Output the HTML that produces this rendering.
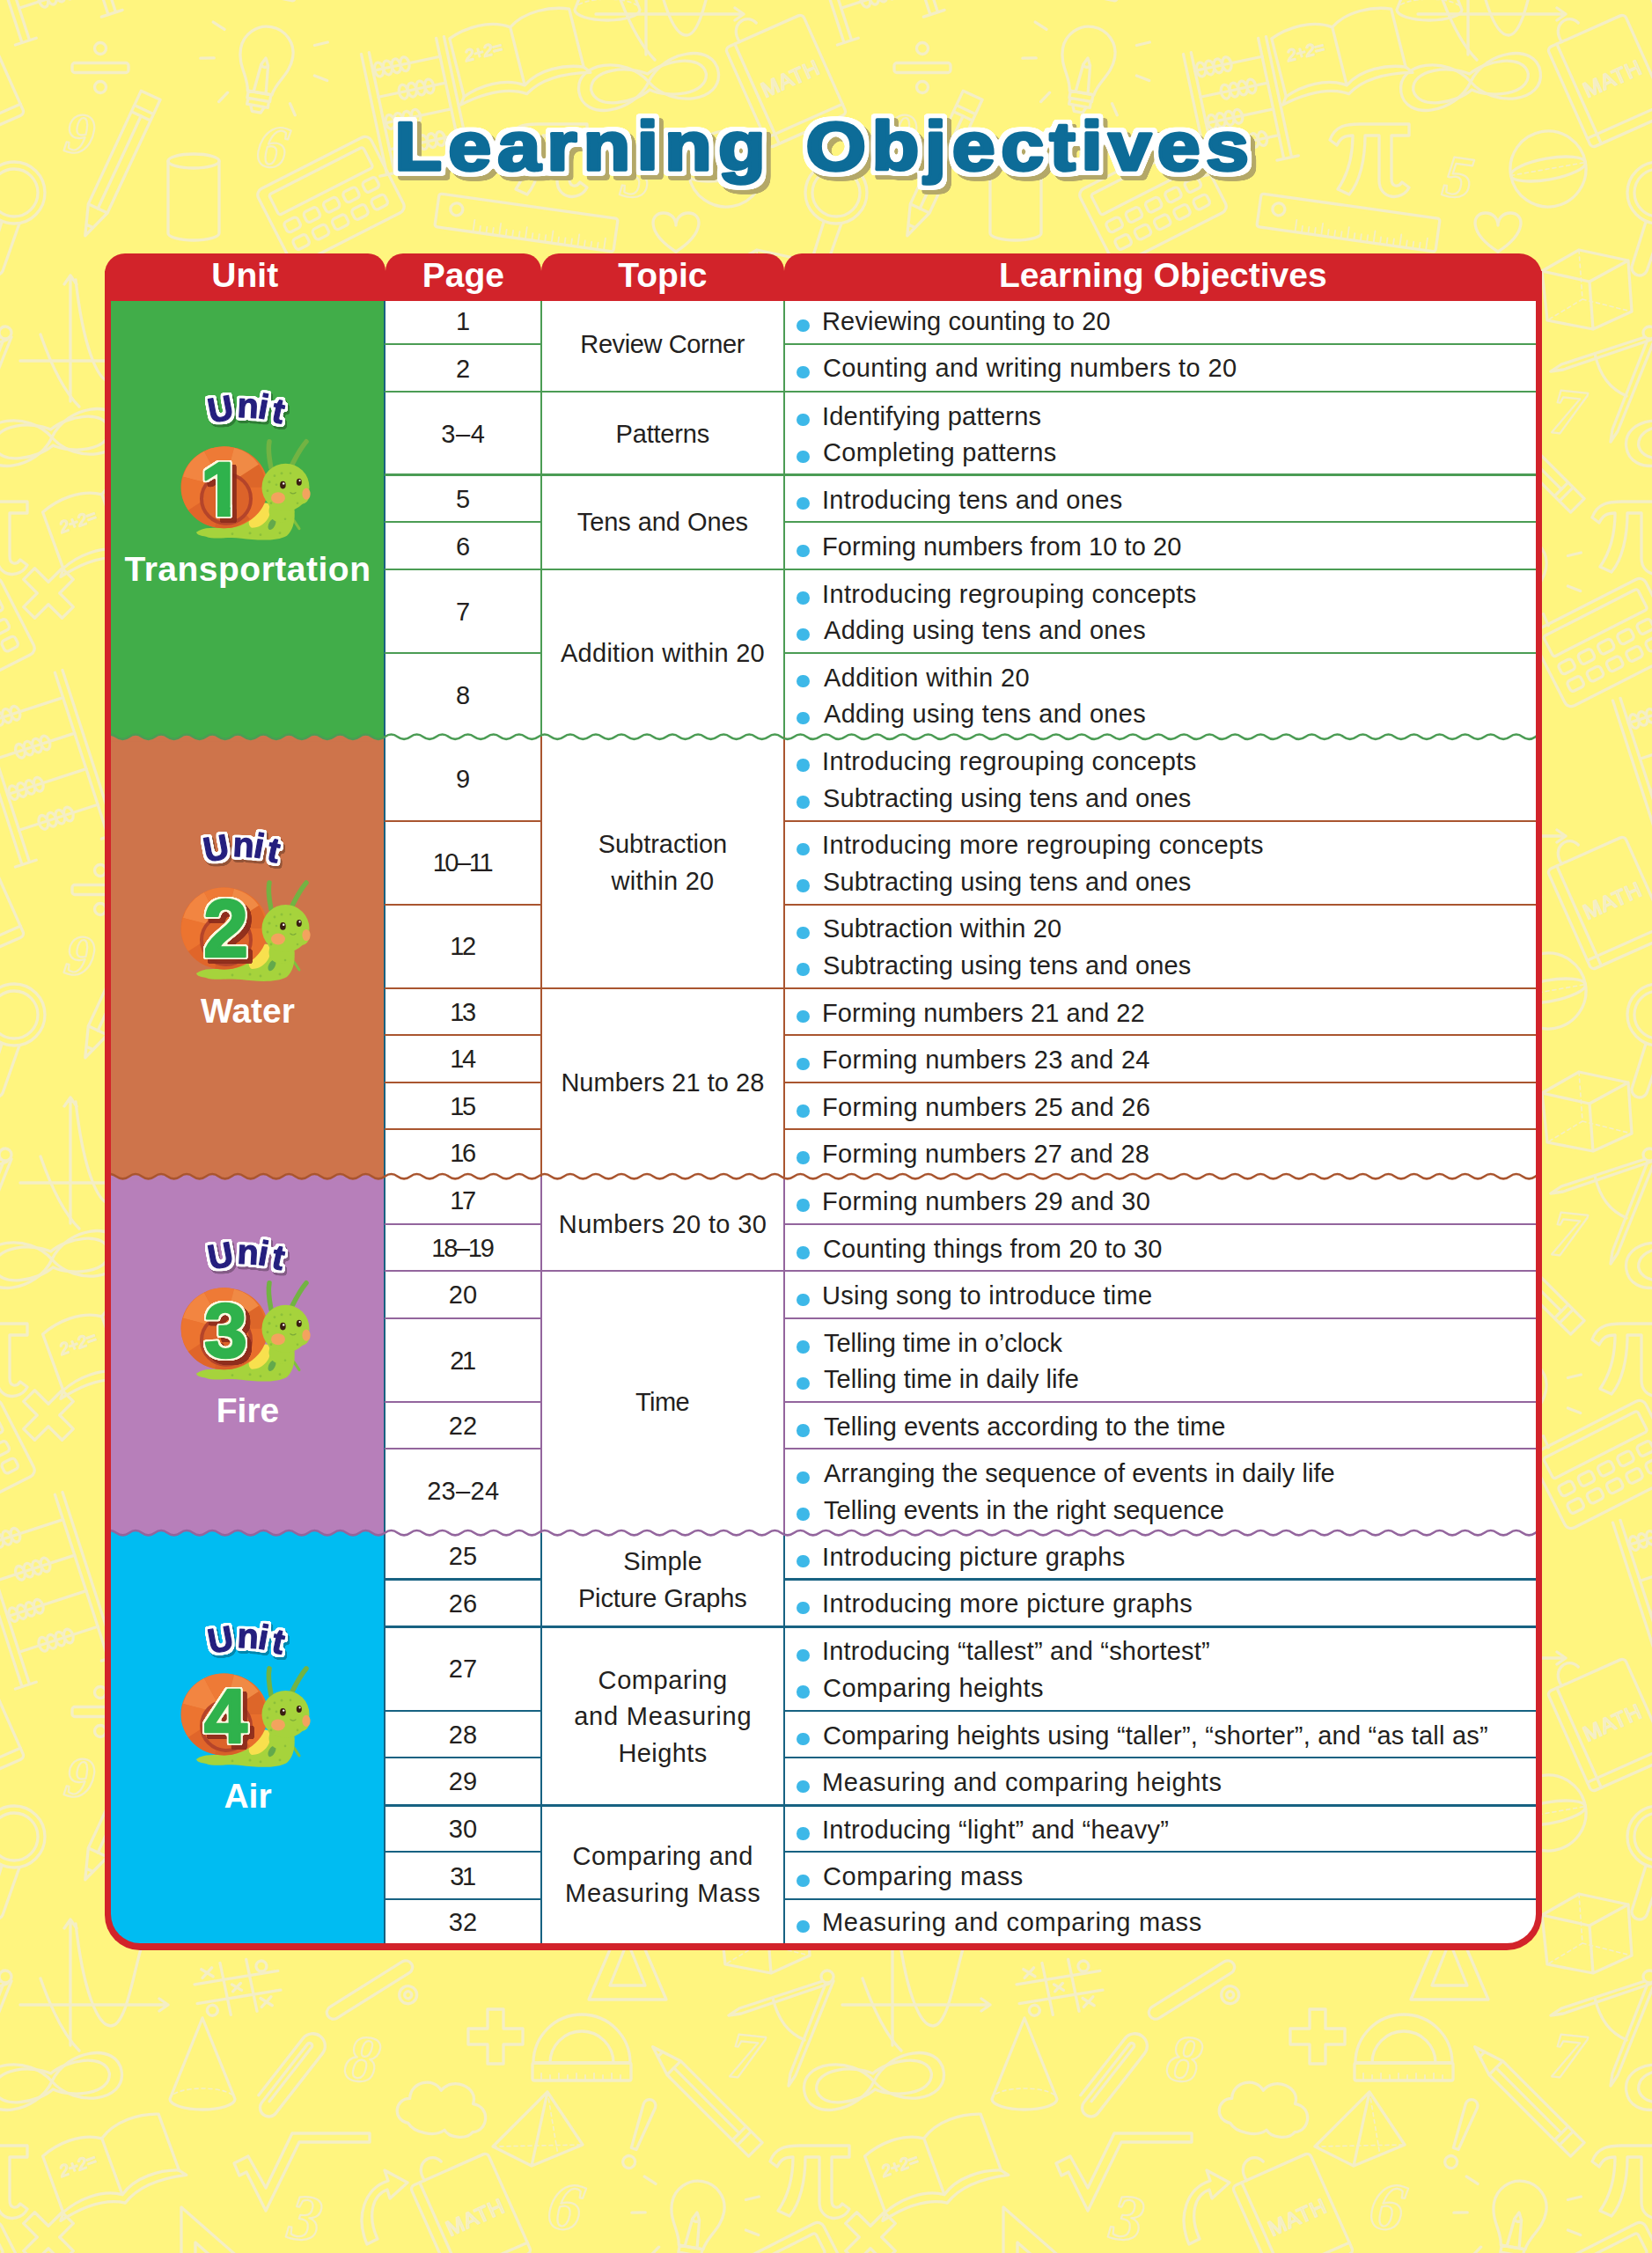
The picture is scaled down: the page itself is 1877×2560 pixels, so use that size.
<!DOCTYPE html>
<html lang="en">
<head>
<meta charset="utf-8">
<title>Learning Objectives</title>
<style>
html,body{margin:0;padding:0}
body{width:1877px;height:2560px;position:relative;overflow:hidden;background:#fff57f;font-family:"Liberation Sans",sans-serif;color:#231f20}
.abs,.ln,.vl,.t,.p,.tp,.b,.hd,.ub,.un{position:absolute}
.t,.p,.tp{font-size:29px;line-height:41.6px;height:41.6px;white-space:nowrap;letter-spacing:.2px}
.t{left:936px}
.p{left:437px;width:178.20000000000005px;text-align:center}
.tp{left:615.2px;width:275.4px;text-align:center}
.b{left:905.3px;width:14.5px;height:14.5px;border-radius:50%;background:#3db8e8}
.hd{top:287.5px;height:55.0px;background:#d2232a;color:#fff;font-weight:700;font-size:39px;line-height:50.0px;text-align:center;border-radius:20px 20px 0 0}
.un{left:126px;width:311px;text-align:center;color:#fff;font-weight:700;font-size:39px;line-height:44px;height:44px;white-space:nowrap}
svg{position:absolute;left:0;top:0;overflow:visible}
</style>
</head>
<body>
<svg width="1877" height="2560" viewBox="0 0 1877 2560"><defs><g id="dd" fill="none" stroke="#f4eec6" stroke-width="3.3" stroke-linecap="round" stroke-linejoin="round"><g transform="translate(114 77) rotate(0) scale(1)"><rect x="-32" y="-5.5" width="64" height="11" rx="3"/><circle cx="0" cy="-22" r="6.5"/><circle cx="0" cy="22" r="6.5"/></g><g transform="translate(301 72) rotate(10) scale(1)"><path d="M-14 34 C-16 18 -30 8 -30 -12 A30 30 0 1 1 30 -12 C30 8 16 18 14 34 Z"/><path d="M-13 34 h26 v8 h-26 z M-12 42 h24 v7 h-24 z M-8 49 h16 l-3 7 h-10 z"/><path d="M-7 33 L-4 2 L0 -6 L4 2 L7 33 M-4 2 q4 5 8 0"/><path d="M-52 -30 l-14 -6 M-58 4 l-15 3 M52 -30 l14 -6 M58 4 l15 3 M36 40 l8 12 M-36 40 l-8 12"/></g><g transform="translate(791 652) rotate(10) scale(1)"><path d="M-14 34 C-16 18 -30 8 -30 -12 A30 30 0 1 1 30 -12 C30 8 16 18 14 34 Z"/><path d="M-13 34 h26 v8 h-26 z M-12 42 h24 v7 h-24 z M-8 49 h16 l-3 7 h-10 z"/><path d="M-7 33 L-4 2 L0 -6 L4 2 L7 33 M-4 2 q4 5 8 0"/><path d="M-52 -30 l-14 -6 M-58 4 l-15 3 M52 -30 l14 -6 M58 4 l15 3 M36 40 l8 12 M-36 40 l-8 12"/></g><g transform="translate(91 152) rotate(8) scale(1)"><text x="0" y="22" font-family="Liberation Serif, serif" font-style="italic" font-weight="700" font-size="66" text-anchor="middle" stroke-width="2.2">9</text></g><g transform="translate(134 188) rotate(115) scale(1)"><path d="M-88.0 -12.0 H54.0 L88.0 0 L54.0 12.0 H-88.0 Z M54.0 -12.0 V12.0 M-70.0 -12.0 V12.0 M-62.0 -12.0 V12.0 M76.0 -4 V4"/><path d="M-62.0 0 H54.0"/></g><g transform="translate(310 166) rotate(10) scale(1)"><text x="0" y="24" font-family="Liberation Serif, serif" font-style="italic" font-weight="700" font-size="70" text-anchor="middle" stroke-width="2.2">6</text></g><g transform="translate(220 224) rotate(0) scale(1)"><ellipse cx="0" cy="-41" rx="29" ry="8"/><path d="M-29 -41 V41 A29 8 0 0 0 29 41 V-41"/></g><g transform="translate(376 228) rotate(-27) scale(1)"><rect x="-72" y="-48" width="144" height="96" rx="8"/><rect x="-60" y="-38" width="120" height="26" rx="3"/><rect x="-60" y="-2" width="17" height="13" rx="4"/><rect x="-35" y="-2" width="17" height="13" rx="4"/><rect x="-10" y="-2" width="17" height="13" rx="4"/><rect x="15" y="-2" width="17" height="13" rx="4"/><rect x="40" y="-2" width="17" height="13" rx="4"/><rect x="-60" y="20" width="17" height="13" rx="4"/><rect x="-35" y="20" width="17" height="13" rx="4"/><rect x="-10" y="20" width="17" height="13" rx="4"/><rect x="15" y="20" width="17" height="13" rx="4"/><rect x="40" y="20" width="17" height="13" rx="4"/></g><g transform="translate(890 730) rotate(-27) scale(1)"><rect x="-72" y="-48" width="144" height="96" rx="8"/><rect x="-60" y="-38" width="120" height="26" rx="3"/><rect x="-60" y="-2" width="17" height="13" rx="4"/><rect x="-35" y="-2" width="17" height="13" rx="4"/><rect x="-10" y="-2" width="17" height="13" rx="4"/><rect x="15" y="-2" width="17" height="13" rx="4"/><rect x="40" y="-2" width="17" height="13" rx="4"/><rect x="-60" y="20" width="17" height="13" rx="4"/><rect x="-35" y="20" width="17" height="13" rx="4"/><rect x="-10" y="20" width="17" height="13" rx="4"/><rect x="15" y="20" width="17" height="13" rx="4"/><rect x="40" y="20" width="17" height="13" rx="4"/></g><g transform="translate(472 120) rotate(-12) scale(1)"><path d="M-48.0 -70.0 V70.0 M-39.0 -70.0 V70.0 M48.0 -70.0 V70.0 M39.0 -70.0 V70.0 M-56.0 70.0 H-31.0 M31.0 70.0 H56.0"/><path d="M-39.0 -48.69565217391305 H39.0"/><ellipse cx="-32.0" cy="-48.69565217391305" rx="5" ry="8"/><ellipse cx="-22.0" cy="-48.69565217391305" rx="5" ry="8"/><ellipse cx="-12.0" cy="-48.69565217391305" rx="5" ry="8"/><ellipse cx="-2.0" cy="-48.69565217391305" rx="5" ry="8"/><path d="M-39.0 -18.26086956521739 H39.0"/><ellipse cx="-10.0" cy="-18.26086956521739" rx="5" ry="8"/><ellipse cx="0.0" cy="-18.26086956521739" rx="5" ry="8"/><ellipse cx="10.0" cy="-18.26086956521739" rx="5" ry="8"/><ellipse cx="20.0" cy="-18.26086956521739" rx="5" ry="8"/><path d="M-39.0 12.173913043478265 H39.0"/><ellipse cx="-32.0" cy="12.173913043478265" rx="5" ry="8"/><ellipse cx="-22.0" cy="12.173913043478265" rx="5" ry="8"/><ellipse cx="-12.0" cy="12.173913043478265" rx="5" ry="8"/><ellipse cx="-2.0" cy="12.173913043478265" rx="5" ry="8"/><path d="M-39.0 42.60869565217392 H39.0"/><ellipse cx="-10.0" cy="42.60869565217392" rx="5" ry="8"/><ellipse cx="0.0" cy="42.60869565217392" rx="5" ry="8"/><ellipse cx="10.0" cy="42.60869565217392" rx="5" ry="8"/><ellipse cx="20.0" cy="42.60869565217392" rx="5" ry="8"/></g><g transform="translate(48 872) rotate(-18) scale(1)"><path d="M-56.0 -98.0 V98.0 M-47.0 -98.0 V98.0 M56.0 -98.0 V98.0 M47.0 -98.0 V98.0 M-64.0 98.0 H-39.0 M39.0 98.0 H64.0"/><path d="M-47.0 -68.17391304347827 H47.0"/><ellipse cx="-40.0" cy="-68.17391304347827" rx="5" ry="8"/><ellipse cx="-30.0" cy="-68.17391304347827" rx="5" ry="8"/><ellipse cx="-20.0" cy="-68.17391304347827" rx="5" ry="8"/><ellipse cx="-10.0" cy="-68.17391304347827" rx="5" ry="8"/><path d="M-47.0 -25.565217391304344 H47.0"/><ellipse cx="-18.0" cy="-25.565217391304344" rx="5" ry="8"/><ellipse cx="-8.0" cy="-25.565217391304344" rx="5" ry="8"/><ellipse cx="2.0" cy="-25.565217391304344" rx="5" ry="8"/><ellipse cx="12.0" cy="-25.565217391304344" rx="5" ry="8"/><path d="M-47.0 17.043478260869577 H47.0"/><ellipse cx="-40.0" cy="17.043478260869577" rx="5" ry="8"/><ellipse cx="-30.0" cy="17.043478260869577" rx="5" ry="8"/><ellipse cx="-20.0" cy="17.043478260869577" rx="5" ry="8"/><ellipse cx="-10.0" cy="17.043478260869577" rx="5" ry="8"/><path d="M-47.0 59.6521739130435 H47.0"/><ellipse cx="-18.0" cy="59.6521739130435" rx="5" ry="8"/><ellipse cx="-8.0" cy="59.6521739130435" rx="5" ry="8"/><ellipse cx="2.0" cy="59.6521739130435" rx="5" ry="8"/><ellipse cx="12.0" cy="59.6521739130435" rx="5" ry="8"/></g><g transform="translate(587 60) rotate(-14) scale(1)"><path d="M0 -30 C-20 -44 -50 -42 -70 -34 V34 C-50 26 -20 24 0 38 C20 24 50 26 70 34 V-34 C50 -42 20 -44 0 -30 V38"/><path d="M-70 34 l-6 8 C-50 36 -22 34 0 48 C22 34 50 36 76 42 l-6 -8"/><text x="-36" y="-4" font-family="Liberation Sans, sans-serif" font-size="19" font-style="italic" stroke-width="1.6" text-anchor="middle">2+2=</text></g><g transform="translate(126 590) rotate(-20) scale(1)"><path d="M0 -30 C-20 -44 -50 -42 -70 -34 V34 C-50 26 -20 24 0 38 C20 24 50 26 70 34 V-34 C50 -42 20 -44 0 -30 V38"/><path d="M-70 34 l-6 8 C-50 36 -22 34 0 48 C22 34 50 36 76 42 l-6 -8"/><text x="-36" y="-4" font-family="Liberation Sans, sans-serif" font-size="19" font-style="italic" stroke-width="1.6" text-anchor="middle">2+2=</text></g><g transform="translate(893 92) rotate(-24) scale(1)"><rect x="-48" y="-62" width="96" height="124" rx="5"/><path d="M-36 -62 V62 M-48 50 H48"/><path d="M-30 -62 C-34 -84 -10 -90 -4 -74"/><text x="6" y="8" font-family="Liberation Sans, sans-serif" font-size="24" stroke-width="1.8" text-anchor="middle" letter-spacing="1">MATH</text></g><g transform="translate(535 654) rotate(-24) scale(1)"><rect x="-48" y="-62" width="96" height="124" rx="5"/><path d="M-36 -62 V62 M-48 50 H48"/><path d="M-30 -62 C-34 -84 -10 -90 -4 -74"/><text x="6" y="8" font-family="Liberation Sans, sans-serif" font-size="24" stroke-width="1.8" text-anchor="middle" letter-spacing="1">MATH</text></g><g transform="translate(734 16) rotate(0) scale(1)"><path d="M-57 0 H111 M101 -7 L111 0 L101 7 M0 46 V-97 M-7 -87 L0 -97 L7 -87"/><path d="M6 -92 C14 -20 30 24 46 24 C64 24 72 -40 82 -70"/><path d="M-34 -30 C-20 10 -6 36 10 52"/></g><g transform="translate(80 410) rotate(0) scale(1)"><path d="M-57 0 H111 M101 -7 L111 0 L101 7 M0 46 V-97 M-7 -87 L0 -97 L7 -87"/><path d="M6 -92 C14 -20 30 24 46 24 C64 24 72 -40 82 -70"/><path d="M-34 -30 C-20 10 -6 36 10 52"/></g><g transform="translate(737 93) rotate(-8) scale(1)"><path d="M0 0 C-22 -34 -80 -34 -80 0 C-80 34 -22 34 0 0 C22 -34 80 -34 80 0 C80 34 22 34 0 0Z"/><path d="M0 -9 C-20 -22 -64 -24 -66 0 C-64 24 -20 22 0 9 C20 22 64 24 66 0 C64 -24 20 -22 0 -9Z"/></g><g transform="translate(59 497) rotate(-8) scale(1)"><path d="M0 0 C-22 -34 -80 -34 -80 0 C-80 34 -22 34 0 0 C22 -34 80 -34 80 0 C80 34 22 34 0 0Z"/><path d="M0 -9 C-20 -22 -64 -24 -66 0 C-64 24 -20 22 0 9 C20 22 64 24 66 0 C64 -24 20 -22 0 -9Z"/></g><g transform="translate(598 253) rotate(8) scale(1)"><rect x="-102.5" y="-19.0" width="205" height="38" rx="3"/><circle cx="-80.5" cy="-4" r="7"/><path d="M-58.5 19.0 v-14 M-51.0 19.0 v-8 M-43.5 19.0 v-8 M-36.0 19.0 v-8 M-28.5 19.0 v-14 M-21.0 19.0 v-8 M-13.5 19.0 v-8 M-6.0 19.0 v-8 M1.5 19.0 v-14 M9.0 19.0 v-8 M16.5 19.0 v-8 M24.0 19.0 v-8 M31.5 19.0 v-14 M39.0 19.0 v-8 M46.5 19.0 v-8 M54.0 19.0 v-8 M61.5 19.0 v-14 M69.0 19.0 v-8 M76.5 19.0 v-8 M84.0 19.0 v-8 M91.5 19.0 v-14 " stroke-width="1.8"/></g><g transform="translate(768 268) rotate(0) scale(1)"><path d="M0 18 C-34 -4 -30 -26 -14 -26 C-6 -26 0 -20 0 -12 C0 -20 6 -26 14 -26 C30 -26 34 -4 0 18Z"/></g><g transform="translate(16 219) rotate(0) scale(1)"><circle r="35"/><circle r="27"/><path d="M-14 33 L-30 84 a9 9 0 0 0 17 5 L6 35"/></g><g transform="translate(621 181) rotate(0) scale(1)"><path d="M-44 -22 C-38 -38 -26 -40 -10 -40 H46 v13 H26 V22 c0 10 8 10 12 4 l8 6 c-8 16 -34 14 -34 -8 V-27 H-4 C-4 0 -10 26 -22 40 l-13 -6 C-24 18 -18 -4 -18 -27 C-28 -27 -32 -24 -36 -16 Z"/></g><g transform="translate(919 610) rotate(0) scale(1)"><path d="M-44 -22 C-38 -38 -26 -40 -10 -40 H46 v13 H26 V22 c0 10 8 10 12 4 l8 6 c-8 16 -34 14 -34 -8 V-27 H-4 C-4 0 -10 26 -22 40 l-13 -6 C-24 18 -18 -4 -18 -27 C-28 -27 -32 -24 -36 -16 Z"/></g><g transform="translate(723 201) rotate(8) scale(1)"><text x="0" y="23" font-family="Liberation Serif, serif" font-style="italic" font-weight="700" font-size="68" text-anchor="middle" stroke-width="2.2">5</text></g><g transform="translate(825 192) rotate(-10) scale(1)"><circle r="43"/><ellipse rx="43" ry="12"/><path d="M-43 0 h86" stroke-dasharray="4 4" stroke-width="1.6"/></g><g transform="translate(868 328) rotate(0) scale(1)"><path d="M-50 -20 L-8 -44 L48 -32 L52 26 L8 46 L-44 36 Z M-50 -20 L4 -8 L48 -32 M4 -8 L8 46"/><path d="M-8 -44 L-4 12 L-44 36 M-4 12 L52 26" stroke-dasharray="4 4" stroke-width="1.6"/></g><g transform="translate(270 390) rotate(-8) scale(1)"><path d="M-16 -30 L-12 30 M14 -30 L18 30 M-48 -10 L48 -12 M-48 12 L48 10"/><path d="M-38 -26 l12 10 m0 -10 l-12 10 M24 16 l12 10 m0 -10 l-12 10 M-6 -4 l10 8 m0 -8 l-10 8"/><circle cx="30" cy="-20" r="6"/><circle cx="-32" cy="22" r="6"/></g><g transform="translate(420 393) rotate(-32) scale(1)"><rect x="-56" y="-7.5" width="112" height="15" rx="7.5"/><circle cx="34" cy="28" r="10"/><circle cx="34" cy="28" r="4"/></g><g transform="translate(230 477) rotate(0) scale(1)"><path d="M0 -52 L-37 40 A37 12 0 0 0 37 40 Z"/><path d="M-37 40 A37 12 0 0 1 37 40" stroke-dasharray="4 4" stroke-width="1.6"/></g><g transform="translate(327 493) rotate(-52) scale(1)"><path d="M44 -6 H-40 a10 10 0 0 0 0 20 H46 a14 14 0 0 0 0 -28 H-36 M44 -6 a3 3 0 0 1 0 6 H-34"/></g><g transform="translate(412 471) rotate(10) scale(1)"><text x="0" y="26" font-family="Liberation Serif, serif" font-style="italic" font-weight="700" font-size="76" text-anchor="middle" stroke-width="2.2">8</text></g><g transform="translate(563 446) rotate(0) scale(1)"><path d="M-9 -31 h18 v22 h22 v18 h-22 v22 h-18 v-22 h-22 v-18 h22 z" stroke-linejoin="round"/></g><g transform="translate(55 674) rotate(0) scale(1)"><g transform="translate(0 0) rotate(45) scale(1)"><path d="M-9 -31 h18 v22 h22 v18 h-22 v22 h-18 v-22 h-22 v-18 h22 z" stroke-linejoin="round"/></g></g><g transform="translate(661 462) rotate(0) scale(1)"><path d="M-55 14 A55 55 0 0 1 55 14 Z"/><path d="M-36 14 A36 36 0 0 1 36 14"/><rect x="-56" y="14" width="112" height="20" rx="2"/><path d="M-46 34 v-8 M-36 34 v-6 M-26 34 v-8 M-16 34 v-6 M-6 34 v-8 M4 34 v-6 M14 34 v-8 M24 34 v-6 M34 34 v-8 M44 34 v-6" stroke-width="1.8"/></g><g transform="translate(505 524) rotate(8) scale(1)"><path d="M-38 26 C-58 24 -56 0 -40 -2 C-42 -22 -16 -30 -6 -16 C4 -34 36 -26 32 -6 C52 -6 54 22 36 26 C30 36 10 36 4 28 C-6 38 -30 36 -38 26Z"/></g><g transform="translate(612 551) rotate(0) scale(1)"><path d="M10 -42 L-52 20 L-8 42 L50 18 Z M10 -42 L-8 42"/><path d="M-52 20 L50 18 M10 -42 L22 30" stroke-dasharray="4 4" stroke-width="1.6"/></g><g transform="translate(800 516) rotate(-135) scale(1)"><path d="M-82.5 -11.0 H48.5 L82.5 0 L48.5 11.0 H-82.5 Z M48.5 -11.0 V11.0 M-64.5 -11.0 V11.0 M-56.5 -11.0 V11.0 M70.5 -4 V4"/><path d="M-56.5 0 H48.5"/></g><g transform="translate(847 468) rotate(6) scale(1)"><text x="0" y="25" font-family="Liberation Serif, serif" font-style="italic" font-weight="700" font-size="74" text-anchor="middle" stroke-width="2.2">7</text></g><g transform="translate(940 378) rotate(0) scale(1)"><circle r="7"/><path d="M-5 5 L-100 36 l-12 8 l14 -2 L2 8"/><path d="M-2 8 L-42 110 l-2 14 l8 -12 L7 5"/><path d="M-62 24 C-56 50 -44 64 -26 72"/></g><g transform="translate(724 560) rotate(20) scale(1)"><path d="M-6 -38 a7 7 0 0 1 14 0 L4 14 h-6 Z"/><circle cx="1" cy="30" r="7"/></g><g transform="translate(342 592) rotate(0) scale(1)"><path d="M-76 -2 l16 -8 l20 36 l30 -62 H78 v10 H-2 L-40 52 l-22 -44 l-8 4 Z" stroke-linejoin="round"/></g><g transform="translate(347 652) rotate(8) scale(1)"><text x="0" y="25" font-family="Liberation Serif, serif" font-style="italic" font-weight="700" font-size="74" text-anchor="middle" stroke-width="2.2">3</text></g><g transform="translate(427 640) rotate(0) scale(1)"><path d="M-10 42 C-24 10 -12 -22 14 -30 l-4 -12 l26 14 l-20 18 l-3 -10 C-4 -14 -10 10 2 36 Z" stroke-linejoin="round"/></g><g transform="translate(643 638) rotate(10) scale(1)"><text x="0" y="27" font-family="Liberation Serif, serif" font-style="italic" font-weight="700" font-size="78" text-anchor="middle" stroke-width="2.2">6</text></g><g transform="translate(262 690) rotate(0) scale(1)"><path d="M-56 -50 L-56 50 L58 50 Z M-40 -10 L-40 34 L10 34 Z" stroke-linejoin="round"/></g><g transform="translate(713 352) rotate(0) scale(1)"><path d="M0 -52 L-44 52 H44 Z M0 -14 L-20 36 H20 Z" stroke-linejoin="round"/></g><g transform="translate(180 800) rotate(20) scale(1)"><text x="0" y="24" font-family="Liberation Serif, serif" font-style="italic" font-weight="700" font-size="70" text-anchor="middle" stroke-width="2.2">4</text></g><g transform="translate(330 820) rotate(-10) scale(1)"><path d="M0 18 C-34 -4 -30 -26 -14 -26 C-6 -26 0 -20 0 -12 C0 -20 6 -26 14 -26 C30 -26 34 -4 0 18Z"/></g><g transform="translate(470 800) rotate(0) scale(1)"><g transform="translate(0 0) rotate(45) scale(1)"><path d="M-9 -31 h18 v22 h22 v18 h-22 v22 h-18 v-22 h-22 v-18 h22 z" stroke-linejoin="round"/></g></g><g transform="translate(620 790) rotate(15) scale(1)"><path d="M-38 26 C-58 24 -56 0 -40 -2 C-42 -22 -16 -30 -6 -16 C4 -34 36 -26 32 -6 C52 -6 54 22 36 26 C30 36 10 36 4 28 C-6 38 -30 36 -38 26Z"/></g><g transform="translate(760 840) rotate(-20) scale(1)"><text x="0" y="25" font-family="Liberation Serif, serif" font-style="italic" font-weight="700" font-size="74" text-anchor="middle" stroke-width="2.2">2</text></g><g transform="translate(250 900) rotate(12) scale(1)"><rect x="-90.0" y="-17.0" width="180" height="34" rx="3"/><circle cx="-68.0" cy="-4" r="7"/><path d="M-46.0 17.0 v-14 M-38.5 17.0 v-8 M-31.0 17.0 v-8 M-23.5 17.0 v-8 M-16.0 17.0 v-14 M-8.5 17.0 v-8 M-1.0 17.0 v-8 M6.5 17.0 v-8 M14.0 17.0 v-14 M21.5 17.0 v-8 M29.0 17.0 v-8 M36.5 17.0 v-8 M44.0 17.0 v-14 M51.5 17.0 v-8 M59.0 17.0 v-8 M66.5 17.0 v-8 M74.0 17.0 v-14 M81.5 17.0 v-8 " stroke-width="1.8"/></g><g transform="translate(520 900) rotate(-10) scale(1)"><path d="M-9 -31 h18 v22 h22 v18 h-22 v22 h-18 v-22 h-22 v-18 h22 z" stroke-linejoin="round"/></g><g transform="translate(690 905) rotate(0) scale(1)"><path d="M0 -52 L-37 40 A37 12 0 0 0 37 40 Z"/><path d="M-37 40 A37 12 0 0 1 37 40" stroke-dasharray="4 4" stroke-width="1.6"/></g></g></defs><use href="#dd" x="-934" y="-934"/><use href="#dd" x="0" y="-934"/><use href="#dd" x="934" y="-934"/><use href="#dd" x="1868" y="-934"/><use href="#dd" x="-934" y="0"/><use href="#dd" x="0" y="0"/><use href="#dd" x="934" y="0"/><use href="#dd" x="1868" y="0"/><use href="#dd" x="-934" y="934"/><use href="#dd" x="0" y="934"/><use href="#dd" x="934" y="934"/><use href="#dd" x="1868" y="934"/><use href="#dd" x="-934" y="1868"/><use href="#dd" x="0" y="1868"/><use href="#dd" x="934" y="1868"/><use href="#dd" x="1868" y="1868"/></svg>
<svg width="1877" height="290" viewBox="0 0 1877 290"><defs><filter id="ft" filterUnits="userSpaceOnUse" x="400" y="90" width="1100" height="180" color-interpolation-filters="sRGB"><feMorphology in="SourceAlpha" operator="dilate" radius="4.6" result="d"/><feGaussianBlur in="d" stdDeviation="1.6" result="b"/><feComponentTransfer in="b" result="o"><feFuncA type="linear" slope="7" intercept="-3"/></feComponentTransfer><feFlood flood-color="#fff"/><feComposite in2="o" operator="in" result="oc"/><feOffset in="o" dx="4.5" dy="4.5" result="so"/><feFlood flood-color="#b4a868" flood-opacity="1.0"/><feComposite in2="so" operator="in" result="sc"/><feMerge><feMergeNode in="sc"/><feMergeNode in="oc"/><feMergeNode in="SourceGraphic"/></feMerge></filter></defs><g filter="url(#ft)"><g transform="translate(448.25,193.05) scale(1.13,1)"><text fill="#0d6c98" stroke="#0d6c98" stroke-width="3.5" font-family="Liberation Sans, sans-serif" font-weight="700" font-size="78" stroke-linejoin="round" stroke-linecap="round"><tspan x="0" textLength="373.0">Learning</tspan> <tspan x="413.6" textLength="445.6">Objectives</tspan></text></g></g></svg>
<div class="abs" style="left:119px;top:307.5px;width:1633px;height:1908.0px;background:#d2232a;border-radius:0 0 40px 40px"></div>
<div class="hd" style="left:119px;width:318.5px;border-radius:23px 20px 0 0">Unit</div>
<div class="hd" style="left:437.5px;width:177.70000000000005px;border-radius:20px 20px 0 0">Page</div>
<div class="hd" style="left:615.2px;width:275.4px;border-radius:20px 20px 0 0">Topic</div>
<div class="hd" style="left:890.6px;width:861.4px;border-radius:20px 26px 0 0">Learning Objectives</div>
<div class="abs" style="left:437px;top:341.5px;width:1308px;height:1866.8000000000002px;background:#fff;border-radius:0 0 33px 0"></div>
<div class="ub" style="left:126px;top:341.5px;width:311px;height:495.5px;background:#41ad49;"></div>
<div class="ub" style="left:126px;top:837.0px;width:311px;height:499.5px;background:#ce744b;"></div>
<div class="ub" style="left:126px;top:1336.5px;width:311px;height:405.0px;background:#b77fba;"></div>
<div class="ub" style="left:126px;top:1741.5px;width:311px;height:466.8000000000002px;background:#00bcf2;border-radius:0 0 0 33px;"></div>
<div class="vl" style="left:436px;top:341.5px;width:2.2px;height:1866.8000000000002px;background:#186180"></div>
<div class="vl" style="left:614.1px;top:341.5px;width:2.2px;height:495.5px;background:#4b9c54"></div>
<div class="vl" style="left:889.5px;top:341.5px;width:2.2px;height:495.5px;background:#4b9c54"></div>
<div class="vl" style="left:614.1px;top:837.0px;width:2.2px;height:499.5px;background:#a9552f"></div>
<div class="vl" style="left:889.5px;top:837.0px;width:2.2px;height:499.5px;background:#a9552f"></div>
<div class="vl" style="left:614.1px;top:1336.5px;width:2.2px;height:405.0px;background:#93659d"></div>
<div class="vl" style="left:889.5px;top:1336.5px;width:2.2px;height:405.0px;background:#93659d"></div>
<div class="vl" style="left:614.1px;top:1741.5px;width:2.2px;height:466.8000000000002px;background:#176282"></div>
<div class="vl" style="left:889.5px;top:1741.5px;width:2.2px;height:466.8000000000002px;background:#176282"></div>
<div class="ln" style="left:437px;top:390.29999999999995px;width:178.20000000000005px;height:2.2px;background:#4b9c54"></div>
<div class="ln" style="left:890.6px;top:390.29999999999995px;width:854.4px;height:2.2px;background:#4b9c54"></div>
<div class="ln" style="left:437px;top:443.8px;width:1308px;height:2.4px;background:#4b9c54"></div>
<div class="ln" style="left:437px;top:538.4px;width:1308px;height:2.4px;background:#4b9c54"></div>
<div class="ln" style="left:437px;top:592.1999999999999px;width:178.20000000000005px;height:2.2px;background:#4b9c54"></div>
<div class="ln" style="left:890.6px;top:592.1999999999999px;width:854.4px;height:2.2px;background:#4b9c54"></div>
<div class="ln" style="left:437px;top:646.0px;width:1308px;height:2.4px;background:#4b9c54"></div>
<div class="ln" style="left:437px;top:740.5px;width:178.20000000000005px;height:2.2px;background:#4b9c54"></div>
<div class="ln" style="left:890.6px;top:740.5px;width:854.4px;height:2.2px;background:#4b9c54"></div>
<div class="ln" style="left:437px;top:931.5px;width:178.20000000000005px;height:2.2px;background:#a9552f"></div>
<div class="ln" style="left:890.6px;top:931.5px;width:854.4px;height:2.2px;background:#a9552f"></div>
<div class="ln" style="left:437px;top:1026.5px;width:178.20000000000005px;height:2.2px;background:#a9552f"></div>
<div class="ln" style="left:890.6px;top:1026.5px;width:854.4px;height:2.2px;background:#a9552f"></div>
<div class="ln" style="left:437px;top:1121.5px;width:1308px;height:2.4px;background:#a9552f"></div>
<div class="ln" style="left:437px;top:1175.1000000000001px;width:178.20000000000005px;height:2.2px;background:#a9552f"></div>
<div class="ln" style="left:890.6px;top:1175.1000000000001px;width:854.4px;height:2.2px;background:#a9552f"></div>
<div class="ln" style="left:437px;top:1229.0px;width:178.20000000000005px;height:2.2px;background:#a9552f"></div>
<div class="ln" style="left:890.6px;top:1229.0px;width:854.4px;height:2.2px;background:#a9552f"></div>
<div class="ln" style="left:437px;top:1282.0px;width:178.20000000000005px;height:2.2px;background:#a9552f"></div>
<div class="ln" style="left:890.6px;top:1282.0px;width:854.4px;height:2.2px;background:#a9552f"></div>
<div class="ln" style="left:437px;top:1390.0px;width:178.20000000000005px;height:2.2px;background:#93659d"></div>
<div class="ln" style="left:890.6px;top:1390.0px;width:854.4px;height:2.2px;background:#93659d"></div>
<div class="ln" style="left:437px;top:1442.8999999999999px;width:1308px;height:2.4px;background:#93659d"></div>
<div class="ln" style="left:437px;top:1496.9px;width:178.20000000000005px;height:2.2px;background:#93659d"></div>
<div class="ln" style="left:890.6px;top:1496.9px;width:854.4px;height:2.2px;background:#93659d"></div>
<div class="ln" style="left:437px;top:1591.9px;width:178.20000000000005px;height:2.2px;background:#93659d"></div>
<div class="ln" style="left:890.6px;top:1591.9px;width:854.4px;height:2.2px;background:#93659d"></div>
<div class="ln" style="left:437px;top:1645.2px;width:178.20000000000005px;height:2.2px;background:#93659d"></div>
<div class="ln" style="left:890.6px;top:1645.2px;width:854.4px;height:2.2px;background:#93659d"></div>
<div class="ln" style="left:437px;top:1793.4px;width:178.20000000000005px;height:2.2px;background:#176282"></div>
<div class="ln" style="left:890.6px;top:1793.4px;width:854.4px;height:2.2px;background:#176282"></div>
<div class="ln" style="left:437px;top:1846.8px;width:1308px;height:3.0px;background:#176282"></div>
<div class="ln" style="left:437px;top:1942.9px;width:178.20000000000005px;height:2.2px;background:#176282"></div>
<div class="ln" style="left:890.6px;top:1942.9px;width:854.4px;height:2.2px;background:#176282"></div>
<div class="ln" style="left:437px;top:1995.8000000000002px;width:178.20000000000005px;height:2.2px;background:#176282"></div>
<div class="ln" style="left:890.6px;top:1995.8000000000002px;width:854.4px;height:2.2px;background:#176282"></div>
<div class="ln" style="left:437px;top:2049.9px;width:1308px;height:3.0px;background:#176282"></div>
<div class="ln" style="left:437px;top:2103.1px;width:178.20000000000005px;height:2.2px;background:#176282"></div>
<div class="ln" style="left:890.6px;top:2103.1px;width:854.4px;height:2.2px;background:#176282"></div>
<div class="ln" style="left:437px;top:2157.3px;width:178.20000000000005px;height:2.2px;background:#176282"></div>
<div class="ln" style="left:890.6px;top:2157.3px;width:854.4px;height:2.2px;background:#176282"></div>
<svg width="1877" height="2560" viewBox="0 0 1877 2560"><defs><clipPath id="wc"><rect x="126" y="300" width="1619" height="1910"/></clipPath><clipPath id="wu"><rect x="126" y="300" width="310" height="1910"/></clipPath></defs><g clip-path="url(#wu)"><rect x="120" y="832.2" width="320" height="10" fill="#ce744b"/><path d="M117.70 837.20 Q124.96 831.80 132.22 837.20 T146.75 837.20 T161.28 837.20 T175.80 837.20 T190.33 837.20 T204.85 837.20 T219.38 837.20 T233.90 837.20 T248.43 837.20 T262.95 837.20 T277.48 837.20 T292.00 837.20 T306.52 837.20 T321.05 837.20 T335.57 837.20 T350.10 837.20 T364.62 837.20 T379.15 837.20 T393.67 837.20 T408.20 837.20 T422.72 837.20 T437.25 837.20 T451.77 837.20 T466.30 837.20 T480.82 837.20 T495.35 837.20 T509.87 837.20 T524.40 837.20 T538.92 837.20 T553.45 837.20 T567.97 837.20 T582.50 837.20 T597.02 837.20 T611.55 837.20 T626.07 837.20 T640.60 837.20 T655.12 837.20 T669.65 837.20 T684.17 837.20 T698.70 837.20 T713.22 837.20 T727.75 837.20 T742.27 837.20 T756.80 837.20 T771.32 837.20 T785.85 837.20 T800.37 837.20 T814.90 837.20 T829.42 837.20 T843.95 837.20 T858.47 837.20 T873.00 837.20 T887.52 837.20 T902.05 837.20 T916.57 837.20 T931.10 837.20 T945.62 837.20 T960.15 837.20 T974.67 837.20 T989.20 837.20 T1003.72 837.20 T1018.25 837.20 T1032.77 837.20 T1047.30 837.20 T1061.82 837.20 T1076.35 837.20 T1090.87 837.20 T1105.40 837.20 T1119.92 837.20 T1134.45 837.20 T1148.97 837.20 T1163.50 837.20 T1178.02 837.20 T1192.55 837.20 T1207.08 837.20 T1221.60 837.20 T1236.13 837.20 T1250.65 837.20 T1265.18 837.20 T1279.70 837.20 T1294.23 837.20 T1308.75 837.20 T1323.28 837.20 T1337.80 837.20 T1352.33 837.20 T1366.85 837.20 T1381.38 837.20 T1395.90 837.20 T1410.43 837.20 T1424.95 837.20 T1439.48 837.20 T1454.00 837.20 T1468.53 837.20 T1483.05 837.20 T1497.58 837.20 T1512.10 837.20 T1526.63 837.20 T1541.15 837.20 T1555.68 837.20 T1570.20 837.20 T1584.73 837.20 T1599.25 837.20 T1613.78 837.20 T1628.30 837.20 T1642.83 837.20 T1657.35 837.20 T1671.88 837.20 T1686.40 837.20 T1700.93 837.20 T1715.45 837.20 T1729.98 837.20 T1744.50 837.20 T1759.03 837.20 L1750 831.2 L117 831.2 Z" fill="#41ad49"/><rect x="120" y="1331.7" width="320" height="10" fill="#b77fba"/><path d="M117.70 1336.70 Q124.96 1331.30 132.22 1336.70 T146.75 1336.70 T161.28 1336.70 T175.80 1336.70 T190.33 1336.70 T204.85 1336.70 T219.38 1336.70 T233.90 1336.70 T248.43 1336.70 T262.95 1336.70 T277.48 1336.70 T292.00 1336.70 T306.52 1336.70 T321.05 1336.70 T335.57 1336.70 T350.10 1336.70 T364.62 1336.70 T379.15 1336.70 T393.67 1336.70 T408.20 1336.70 T422.72 1336.70 T437.25 1336.70 T451.77 1336.70 T466.30 1336.70 T480.82 1336.70 T495.35 1336.70 T509.87 1336.70 T524.40 1336.70 T538.92 1336.70 T553.45 1336.70 T567.97 1336.70 T582.50 1336.70 T597.02 1336.70 T611.55 1336.70 T626.07 1336.70 T640.60 1336.70 T655.12 1336.70 T669.65 1336.70 T684.17 1336.70 T698.70 1336.70 T713.22 1336.70 T727.75 1336.70 T742.27 1336.70 T756.80 1336.70 T771.32 1336.70 T785.85 1336.70 T800.37 1336.70 T814.90 1336.70 T829.42 1336.70 T843.95 1336.70 T858.47 1336.70 T873.00 1336.70 T887.52 1336.70 T902.05 1336.70 T916.57 1336.70 T931.10 1336.70 T945.62 1336.70 T960.15 1336.70 T974.67 1336.70 T989.20 1336.70 T1003.72 1336.70 T1018.25 1336.70 T1032.77 1336.70 T1047.30 1336.70 T1061.82 1336.70 T1076.35 1336.70 T1090.87 1336.70 T1105.40 1336.70 T1119.92 1336.70 T1134.45 1336.70 T1148.97 1336.70 T1163.50 1336.70 T1178.02 1336.70 T1192.55 1336.70 T1207.08 1336.70 T1221.60 1336.70 T1236.13 1336.70 T1250.65 1336.70 T1265.18 1336.70 T1279.70 1336.70 T1294.23 1336.70 T1308.75 1336.70 T1323.28 1336.70 T1337.80 1336.70 T1352.33 1336.70 T1366.85 1336.70 T1381.38 1336.70 T1395.90 1336.70 T1410.43 1336.70 T1424.95 1336.70 T1439.48 1336.70 T1454.00 1336.70 T1468.53 1336.70 T1483.05 1336.70 T1497.58 1336.70 T1512.10 1336.70 T1526.63 1336.70 T1541.15 1336.70 T1555.68 1336.70 T1570.20 1336.70 T1584.73 1336.70 T1599.25 1336.70 T1613.78 1336.70 T1628.30 1336.70 T1642.83 1336.70 T1657.35 1336.70 T1671.88 1336.70 T1686.40 1336.70 T1700.93 1336.70 T1715.45 1336.70 T1729.98 1336.70 T1744.50 1336.70 T1759.03 1336.70 L1750 1330.7 L117 1330.7 Z" fill="#ce744b"/><rect x="120" y="1736.7" width="320" height="10" fill="#00bcf2"/><path d="M117.70 1741.70 Q124.96 1736.30 132.22 1741.70 T146.75 1741.70 T161.28 1741.70 T175.80 1741.70 T190.33 1741.70 T204.85 1741.70 T219.38 1741.70 T233.90 1741.70 T248.43 1741.70 T262.95 1741.70 T277.48 1741.70 T292.00 1741.70 T306.52 1741.70 T321.05 1741.70 T335.57 1741.70 T350.10 1741.70 T364.62 1741.70 T379.15 1741.70 T393.67 1741.70 T408.20 1741.70 T422.72 1741.70 T437.25 1741.70 T451.77 1741.70 T466.30 1741.70 T480.82 1741.70 T495.35 1741.70 T509.87 1741.70 T524.40 1741.70 T538.92 1741.70 T553.45 1741.70 T567.97 1741.70 T582.50 1741.70 T597.02 1741.70 T611.55 1741.70 T626.07 1741.70 T640.60 1741.70 T655.12 1741.70 T669.65 1741.70 T684.17 1741.70 T698.70 1741.70 T713.22 1741.70 T727.75 1741.70 T742.27 1741.70 T756.80 1741.70 T771.32 1741.70 T785.85 1741.70 T800.37 1741.70 T814.90 1741.70 T829.42 1741.70 T843.95 1741.70 T858.47 1741.70 T873.00 1741.70 T887.52 1741.70 T902.05 1741.70 T916.57 1741.70 T931.10 1741.70 T945.62 1741.70 T960.15 1741.70 T974.67 1741.70 T989.20 1741.70 T1003.72 1741.70 T1018.25 1741.70 T1032.77 1741.70 T1047.30 1741.70 T1061.82 1741.70 T1076.35 1741.70 T1090.87 1741.70 T1105.40 1741.70 T1119.92 1741.70 T1134.45 1741.70 T1148.97 1741.70 T1163.50 1741.70 T1178.02 1741.70 T1192.55 1741.70 T1207.08 1741.70 T1221.60 1741.70 T1236.13 1741.70 T1250.65 1741.70 T1265.18 1741.70 T1279.70 1741.70 T1294.23 1741.70 T1308.75 1741.70 T1323.28 1741.70 T1337.80 1741.70 T1352.33 1741.70 T1366.85 1741.70 T1381.38 1741.70 T1395.90 1741.70 T1410.43 1741.70 T1424.95 1741.70 T1439.48 1741.70 T1454.00 1741.70 T1468.53 1741.70 T1483.05 1741.70 T1497.58 1741.70 T1512.10 1741.70 T1526.63 1741.70 T1541.15 1741.70 T1555.68 1741.70 T1570.20 1741.70 T1584.73 1741.70 T1599.25 1741.70 T1613.78 1741.70 T1628.30 1741.70 T1642.83 1741.70 T1657.35 1741.70 T1671.88 1741.70 T1686.40 1741.70 T1700.93 1741.70 T1715.45 1741.70 T1729.98 1741.70 T1744.50 1741.70 T1759.03 1741.70 L1750 1735.7 L117 1735.7 Z" fill="#b77fba"/></g><g clip-path="url(#wc)" fill="none" stroke-width="2.6" stroke-linecap="round"><path d="M117.70 837.20 Q124.96 831.80 132.22 837.20 T146.75 837.20 T161.28 837.20 T175.80 837.20 T190.33 837.20 T204.85 837.20 T219.38 837.20 T233.90 837.20 T248.43 837.20 T262.95 837.20 T277.48 837.20 T292.00 837.20 T306.52 837.20 T321.05 837.20 T335.57 837.20 T350.10 837.20 T364.62 837.20 T379.15 837.20 T393.67 837.20 T408.20 837.20 T422.72 837.20 T437.25 837.20 T451.77 837.20 T466.30 837.20 T480.82 837.20 T495.35 837.20 T509.87 837.20 T524.40 837.20 T538.92 837.20 T553.45 837.20 T567.97 837.20 T582.50 837.20 T597.02 837.20 T611.55 837.20 T626.07 837.20 T640.60 837.20 T655.12 837.20 T669.65 837.20 T684.17 837.20 T698.70 837.20 T713.22 837.20 T727.75 837.20 T742.27 837.20 T756.80 837.20 T771.32 837.20 T785.85 837.20 T800.37 837.20 T814.90 837.20 T829.42 837.20 T843.95 837.20 T858.47 837.20 T873.00 837.20 T887.52 837.20 T902.05 837.20 T916.57 837.20 T931.10 837.20 T945.62 837.20 T960.15 837.20 T974.67 837.20 T989.20 837.20 T1003.72 837.20 T1018.25 837.20 T1032.77 837.20 T1047.30 837.20 T1061.82 837.20 T1076.35 837.20 T1090.87 837.20 T1105.40 837.20 T1119.92 837.20 T1134.45 837.20 T1148.97 837.20 T1163.50 837.20 T1178.02 837.20 T1192.55 837.20 T1207.08 837.20 T1221.60 837.20 T1236.13 837.20 T1250.65 837.20 T1265.18 837.20 T1279.70 837.20 T1294.23 837.20 T1308.75 837.20 T1323.28 837.20 T1337.80 837.20 T1352.33 837.20 T1366.85 837.20 T1381.38 837.20 T1395.90 837.20 T1410.43 837.20 T1424.95 837.20 T1439.48 837.20 T1454.00 837.20 T1468.53 837.20 T1483.05 837.20 T1497.58 837.20 T1512.10 837.20 T1526.63 837.20 T1541.15 837.20 T1555.68 837.20 T1570.20 837.20 T1584.73 837.20 T1599.25 837.20 T1613.78 837.20 T1628.30 837.20 T1642.83 837.20 T1657.35 837.20 T1671.88 837.20 T1686.40 837.20 T1700.93 837.20 T1715.45 837.20 T1729.98 837.20 T1744.50 837.20 T1759.03 837.20" stroke="#4b9c54"/><path d="M117.70 1336.70 Q124.96 1331.30 132.22 1336.70 T146.75 1336.70 T161.28 1336.70 T175.80 1336.70 T190.33 1336.70 T204.85 1336.70 T219.38 1336.70 T233.90 1336.70 T248.43 1336.70 T262.95 1336.70 T277.48 1336.70 T292.00 1336.70 T306.52 1336.70 T321.05 1336.70 T335.57 1336.70 T350.10 1336.70 T364.62 1336.70 T379.15 1336.70 T393.67 1336.70 T408.20 1336.70 T422.72 1336.70 T437.25 1336.70 T451.77 1336.70 T466.30 1336.70 T480.82 1336.70 T495.35 1336.70 T509.87 1336.70 T524.40 1336.70 T538.92 1336.70 T553.45 1336.70 T567.97 1336.70 T582.50 1336.70 T597.02 1336.70 T611.55 1336.70 T626.07 1336.70 T640.60 1336.70 T655.12 1336.70 T669.65 1336.70 T684.17 1336.70 T698.70 1336.70 T713.22 1336.70 T727.75 1336.70 T742.27 1336.70 T756.80 1336.70 T771.32 1336.70 T785.85 1336.70 T800.37 1336.70 T814.90 1336.70 T829.42 1336.70 T843.95 1336.70 T858.47 1336.70 T873.00 1336.70 T887.52 1336.70 T902.05 1336.70 T916.57 1336.70 T931.10 1336.70 T945.62 1336.70 T960.15 1336.70 T974.67 1336.70 T989.20 1336.70 T1003.72 1336.70 T1018.25 1336.70 T1032.77 1336.70 T1047.30 1336.70 T1061.82 1336.70 T1076.35 1336.70 T1090.87 1336.70 T1105.40 1336.70 T1119.92 1336.70 T1134.45 1336.70 T1148.97 1336.70 T1163.50 1336.70 T1178.02 1336.70 T1192.55 1336.70 T1207.08 1336.70 T1221.60 1336.70 T1236.13 1336.70 T1250.65 1336.70 T1265.18 1336.70 T1279.70 1336.70 T1294.23 1336.70 T1308.75 1336.70 T1323.28 1336.70 T1337.80 1336.70 T1352.33 1336.70 T1366.85 1336.70 T1381.38 1336.70 T1395.90 1336.70 T1410.43 1336.70 T1424.95 1336.70 T1439.48 1336.70 T1454.00 1336.70 T1468.53 1336.70 T1483.05 1336.70 T1497.58 1336.70 T1512.10 1336.70 T1526.63 1336.70 T1541.15 1336.70 T1555.68 1336.70 T1570.20 1336.70 T1584.73 1336.70 T1599.25 1336.70 T1613.78 1336.70 T1628.30 1336.70 T1642.83 1336.70 T1657.35 1336.70 T1671.88 1336.70 T1686.40 1336.70 T1700.93 1336.70 T1715.45 1336.70 T1729.98 1336.70 T1744.50 1336.70 T1759.03 1336.70" stroke="#a9552f"/><path d="M117.70 1741.70 Q124.96 1736.30 132.22 1741.70 T146.75 1741.70 T161.28 1741.70 T175.80 1741.70 T190.33 1741.70 T204.85 1741.70 T219.38 1741.70 T233.90 1741.70 T248.43 1741.70 T262.95 1741.70 T277.48 1741.70 T292.00 1741.70 T306.52 1741.70 T321.05 1741.70 T335.57 1741.70 T350.10 1741.70 T364.62 1741.70 T379.15 1741.70 T393.67 1741.70 T408.20 1741.70 T422.72 1741.70 T437.25 1741.70 T451.77 1741.70 T466.30 1741.70 T480.82 1741.70 T495.35 1741.70 T509.87 1741.70 T524.40 1741.70 T538.92 1741.70 T553.45 1741.70 T567.97 1741.70 T582.50 1741.70 T597.02 1741.70 T611.55 1741.70 T626.07 1741.70 T640.60 1741.70 T655.12 1741.70 T669.65 1741.70 T684.17 1741.70 T698.70 1741.70 T713.22 1741.70 T727.75 1741.70 T742.27 1741.70 T756.80 1741.70 T771.32 1741.70 T785.85 1741.70 T800.37 1741.70 T814.90 1741.70 T829.42 1741.70 T843.95 1741.70 T858.47 1741.70 T873.00 1741.70 T887.52 1741.70 T902.05 1741.70 T916.57 1741.70 T931.10 1741.70 T945.62 1741.70 T960.15 1741.70 T974.67 1741.70 T989.20 1741.70 T1003.72 1741.70 T1018.25 1741.70 T1032.77 1741.70 T1047.30 1741.70 T1061.82 1741.70 T1076.35 1741.70 T1090.87 1741.70 T1105.40 1741.70 T1119.92 1741.70 T1134.45 1741.70 T1148.97 1741.70 T1163.50 1741.70 T1178.02 1741.70 T1192.55 1741.70 T1207.08 1741.70 T1221.60 1741.70 T1236.13 1741.70 T1250.65 1741.70 T1265.18 1741.70 T1279.70 1741.70 T1294.23 1741.70 T1308.75 1741.70 T1323.28 1741.70 T1337.80 1741.70 T1352.33 1741.70 T1366.85 1741.70 T1381.38 1741.70 T1395.90 1741.70 T1410.43 1741.70 T1424.95 1741.70 T1439.48 1741.70 T1454.00 1741.70 T1468.53 1741.70 T1483.05 1741.70 T1497.58 1741.70 T1512.10 1741.70 T1526.63 1741.70 T1541.15 1741.70 T1555.68 1741.70 T1570.20 1741.70 T1584.73 1741.70 T1599.25 1741.70 T1613.78 1741.70 T1628.30 1741.70 T1642.83 1741.70 T1657.35 1741.70 T1671.88 1741.70 T1686.40 1741.70 T1700.93 1741.70 T1715.45 1741.70 T1729.98 1741.70 T1744.50 1741.70 T1759.03 1741.70" stroke="#93659d"/></g></svg>
<div class="p" style="top:345.3px;letter-spacing:-2.40px;text-indent:-2.40px">1</div>
<div class="b" style="top:362.8px"></div><div class="t" style="top:345.3px;left:934.0px;letter-spacing:0.16px">Reviewing counting to 20</div>
<div class="p" style="top:398.8px">2</div>
<div class="b" style="top:415.5px"></div><div class="t" style="top:398.0px;left:935.0px;letter-spacing:0.37px">Counting and writing numbers to 20</div>
<div class="p" style="top:473.3px;letter-spacing:0.57px;text-indent:0.57px">3–4</div>
<div class="b" style="top:469.9px"></div><div class="t" style="top:452.5px;left:934.0px;letter-spacing:0.21px">Identifying patterns</div>
<div class="b" style="top:511.5px"></div><div class="t" style="top:494.1px;left:935.0px;letter-spacing:0.32px">Completing patterns</div>
<div class="p" style="top:546.7px">5</div>
<div class="b" style="top:564.9px"></div><div class="t" style="top:547.5px;left:934.0px;letter-spacing:0.31px">Introducing tens and ones</div>
<div class="p" style="top:600.5px">6</div>
<div class="b" style="top:618.7px"></div><div class="t" style="top:601.2px;left:934.0px;letter-spacing:0.08px">Forming numbers from 10 to 20</div>
<div class="p" style="top:674.6px">7</div>
<div class="b" style="top:672.1px"></div><div class="t" style="top:654.6px;left:934.0px;letter-spacing:0.36px">Introducing regrouping concepts</div>
<div class="b" style="top:713.6px"></div><div class="t" style="top:696.2px;left:936.0px;letter-spacing:0.31px">Adding using tens and ones</div>
<div class="p" style="top:769.5px">8</div>
<div class="b" style="top:766.9px"></div><div class="t" style="top:749.5px;left:936.0px;letter-spacing:0.37px">Addition within 20</div>
<div class="b" style="top:808.5px"></div><div class="t" style="top:791.1px;left:936.0px;letter-spacing:0.31px">Adding using tens and ones</div>
<div class="p" style="top:865.0px">9</div>
<div class="b" style="top:862.4px"></div><div class="t" style="top:845.0px;left:934.0px;letter-spacing:0.36px">Introducing regrouping concepts</div>
<div class="b" style="top:904.0px"></div><div class="t" style="top:886.6px;left:935.0px;letter-spacing:0.13px">Subtracting using tens and ones</div>
<div class="p" style="top:960.3px;letter-spacing:-2.40px;text-indent:-2.40px">10–11</div>
<div class="b" style="top:957.7px"></div><div class="t" style="top:940.3px;left:934.0px;letter-spacing:0.37px">Introducing more regrouping concepts</div>
<div class="b" style="top:999.3px"></div><div class="t" style="top:981.9px;left:935.0px;letter-spacing:0.13px">Subtracting using tens and ones</div>
<div class="p" style="top:1055.4px;letter-spacing:-2.40px;text-indent:-2.40px">12</div>
<div class="b" style="top:1052.8px"></div><div class="t" style="top:1035.4px;left:935.0px;letter-spacing:0.09px">Subtraction within 20</div>
<div class="b" style="top:1094.4px"></div><div class="t" style="top:1077.0px;left:935.0px;letter-spacing:0.13px">Subtracting using tens and ones</div>
<div class="p" style="top:1129.7px;letter-spacing:-2.40px;text-indent:-2.40px">13</div>
<div class="b" style="top:1147.9px"></div><div class="t" style="top:1130.5px;left:934.0px;letter-spacing:0.10px">Forming numbers 21 and 22</div>
<div class="p" style="top:1183.4px;letter-spacing:-2.40px;text-indent:-2.40px">14</div>
<div class="b" style="top:1201.6px"></div><div class="t" style="top:1184.2px;left:934.0px;letter-spacing:0.34px">Forming numbers 23 and 24</div>
<div class="p" style="top:1236.8px;letter-spacing:-2.40px;text-indent:-2.40px">15</div>
<div class="b" style="top:1255.0px"></div><div class="t" style="top:1237.6px;left:934.0px;letter-spacing:0.36px">Forming numbers 25 and 26</div>
<div class="p" style="top:1290.0px;letter-spacing:-2.40px;text-indent:-2.40px">16</div>
<div class="b" style="top:1308.2px"></div><div class="t" style="top:1290.8px;left:934.0px;letter-spacing:0.32px">Forming numbers 27 and 28</div>
<div class="p" style="top:1344.0px;letter-spacing:-2.40px;text-indent:-2.40px">17</div>
<div class="b" style="top:1362.2px"></div><div class="t" style="top:1344.8px;left:934.0px;letter-spacing:0.36px">Forming numbers 29 and 30</div>
<div class="p" style="top:1397.8px;letter-spacing:-2.28px;text-indent:-2.28px">18–19</div>
<div class="b" style="top:1416.0px"></div><div class="t" style="top:1398.6px;left:935.0px;letter-spacing:0.18px">Counting things from 20 to 30</div>
<div class="p" style="top:1451.2px">20</div>
<div class="b" style="top:1469.5px"></div><div class="t" style="top:1452.0px;left:934.0px;letter-spacing:0.28px">Using song to introduce time</div>
<div class="p" style="top:1525.7px;letter-spacing:-2.40px;text-indent:-2.40px">21</div>
<div class="b" style="top:1523.2px"></div><div class="t" style="top:1505.7px;left:936.0px;letter-spacing:-0.06px">Telling time in o’clock</div>
<div class="b" style="top:1564.8px"></div><div class="t" style="top:1547.3px;left:936.0px;letter-spacing:0.05px">Telling time in daily life</div>
<div class="p" style="top:1599.9px">22</div>
<div class="b" style="top:1618.1px"></div><div class="t" style="top:1600.7px;left:936.0px;letter-spacing:0.10px">Telling events according to the time</div>
<div class="p" style="top:1674.1px;letter-spacing:0.32px;text-indent:0.32px">23–24</div>
<div class="b" style="top:1671.6px"></div><div class="t" style="top:1654.1px;left:936.0px;letter-spacing:0.08px">Arranging the sequence of events in daily life</div>
<div class="b" style="top:1713.2px"></div><div class="t" style="top:1695.7px;left:936.0px;letter-spacing:0.05px">Telling events in the right sequence</div>
<div class="p" style="top:1748.2px">25</div>
<div class="b" style="top:1766.5px"></div><div class="t" style="top:1749.0px;left:934.0px;letter-spacing:0.36px">Introducing picture graphs</div>
<div class="p" style="top:1801.6px">26</div>
<div class="b" style="top:1819.9px"></div><div class="t" style="top:1802.4px;left:934.0px;letter-spacing:0.38px">Introducing more picture graphs</div>
<div class="p" style="top:1876.4px">27</div>
<div class="b" style="top:1873.8px"></div><div class="t" style="top:1856.4px;left:934.0px;letter-spacing:0.20px">Introducing “tallest” and “shortest”</div>
<div class="b" style="top:1915.4px"></div><div class="t" style="top:1898.0px;left:935.0px;letter-spacing:0.45px">Comparing heights</div>
<div class="p" style="top:1950.7px">28</div>
<div class="b" style="top:1968.9px"></div><div class="t" style="top:1951.5px;left:935.0px;letter-spacing:0.21px">Comparing heights using “taller”, “shorter”, and “as tall as”</div>
<div class="p" style="top:2004.4px">29</div>
<div class="b" style="top:2022.6px"></div><div class="t" style="top:2005.2px;left:934.0px;letter-spacing:0.57px">Measuring and comparing heights</div>
<div class="p" style="top:2058.0px">30</div>
<div class="b" style="top:2076.3px"></div><div class="t" style="top:2058.8px;left:934.0px;letter-spacing:0.29px">Introducing “light” and “heavy”</div>
<div class="p" style="top:2111.5px;letter-spacing:-2.40px;text-indent:-2.40px">31</div>
<div class="b" style="top:2129.8px"></div><div class="t" style="top:2112.3px;left:935.0px;letter-spacing:0.62px">Comparing mass</div>
<div class="p" style="top:2163.6px">32</div>
<div class="b" style="top:2181.8px"></div><div class="t" style="top:2164.4px;left:934.0px;letter-spacing:0.69px">Measuring and comparing mass</div>
<div class="tp" style="top:371.4px;letter-spacing:-0.39px;text-indent:-0.39px">Review Corner</div>
<div class="tp" style="top:473.3px;letter-spacing:-0.20px;text-indent:-0.20px">Patterns</div>
<div class="tp" style="top:572.6px;letter-spacing:-0.07px;text-indent:-0.07px">Tens and Ones</div>
<div class="tp" style="top:722.3px;letter-spacing:0.26px;text-indent:0.26px">Addition within 20</div>
<div class="tp" style="top:939.3px;letter-spacing:-0.02px;text-indent:-0.02px">Subtraction</div>
<div class="tp" style="top:980.9px;letter-spacing:0.27px;text-indent:0.27px">within 20</div>
<div class="tp" style="top:1209.8px;letter-spacing:0.03px;text-indent:0.03px">Numbers 21 to 28</div>
<div class="tp" style="top:1370.5px;letter-spacing:0.37px;text-indent:0.37px">Numbers 20 to 30</div>
<div class="tp" style="top:1573.0px;letter-spacing:-0.58px;text-indent:-0.58px">Time</div>
<div class="tp" style="top:1754.3px;letter-spacing:0.14px;text-indent:0.14px">Simple</div>
<div class="tp" style="top:1795.9px;letter-spacing:-0.11px;text-indent:-0.11px">Picture Graphs</div>
<div class="tp" style="top:1888.5px;letter-spacing:0.59px;text-indent:0.59px">Comparing</div>
<div class="tp" style="top:1930.0px;letter-spacing:0.79px;text-indent:0.79px">and Measuring</div>
<div class="tp" style="top:1971.6px;letter-spacing:0.43px;text-indent:0.43px">Heights</div>
<div class="tp" style="top:2089.2px;letter-spacing:0.55px;text-indent:0.55px">Comparing and</div>
<div class="tp" style="top:2130.9px;letter-spacing:0.68px;text-indent:0.68px">Measuring Mass</div>
<div class="un" style="top:625.2px;letter-spacing:.5px">Transportation</div>
<div class="un" style="top:1126.5px">Water</div>
<div class="un" style="top:1581.2px">Fire</div>
<div class="un" style="top:2019.4px">Air</div>
<svg width="1877" height="2560" viewBox="0 0 1877 2560"><defs><symbol id="snail" overflow="visible">
<g>
<path d="M54 -22 C52 -32 50 -42 52 -52" fill="none" stroke="#72b343" stroke-width="5.5" stroke-linecap="round"/>
<path d="M77 -24 C82 -34 87 -44 94 -52" fill="none" stroke="#72b343" stroke-width="5.5" stroke-linecap="round"/>
<path d="M80 38 l6 9" fill="none" stroke="#7fbf3f" stroke-width="3" stroke-linecap="round"/>
<path d="M-31 51 C-22 44 -8 47 4 45 L40 30 C44 20 50 16 56 18 C60 28 74 30 80 24 C82 34 80 48 72 55 C60 62 36 60 20 58 C4 56 -10 60 -20 56 C-26 55 -30 54 -31 51Z" fill="#a6d33c"/>
<path d="M30 34 C32 24 40 16 50 18 C54 22 54 30 50 36 C46 42 40 46 32 46 C28 44 28 38 30 34Z" fill="#f8e04e"/>
<ellipse cx="55" cy="42" rx="3.6" ry="6.8" transform="rotate(28 55 42)" fill="#63a94c"/>
<ellipse cx="1" cy="0" rx="49.5" ry="46.5" fill="#e86f2c"/>
<path d="M0 0 L-46 -12 A48 46.5 0 0 1 -22 -41Z" fill="#f28541"/>
<path d="M0 0 L-22 -41 A48 46.5 0 0 1 12 -45Z" fill="#ee7a36"/>
<path d="M0 0 L12 -45 A48 46.5 0 0 1 40 -26Z" fill="#f08a45"/>
<path d="M0 0 L40 -26 A48 46.5 0 0 1 48 0Z" fill="#dd6629"/>
<path d="M0 0 L-46 -12 A48 46.5 0 0 0 -40 26Z" fill="#ec7430"/>
<path d="M0 0 L-40 26 A48 46.5 0 0 0 -10 45.5Z" fill="#e0652a"/>
<path d="M0 0 L-10 45.5 A48 46.5 0 0 0 30 36Z" fill="#d85f28"/>
<circle cx="3" cy="13" r="28" fill="#dc632a" stroke="#b4442a" stroke-width="4"/>
<ellipse cx="66" cy="27" rx="14.5" ry="13" fill="#a6d33c"/>
<ellipse cx="70.5" cy="0" rx="27" ry="27" fill="#a6d33c"/>
<ellipse cx="88" cy="8" rx="10" ry="11" fill="#a6d33c"/>
<g fill="#8cc03a"><circle cx="52" cy="-6" r="1.6"/><circle cx="58" cy="-13" r="1.4"/><circle cx="66" cy="-16" r="1.5"/><circle cx="76" cy="-16" r="1.3"/><circle cx="50" cy="4" r="1.4"/><circle cx="60" cy="-3" r="1.3"/><circle cx="54" cy="18" r="1.4"/><circle cx="84" cy="18" r="1.3"/><circle cx="30" cy="52" r="1.5"/><circle cx="42" cy="54" r="1.4"/><circle cx="64" cy="52" r="1.4"/><circle cx="70" cy="36" r="1.3"/><circle cx="10" cy="53" r="1.4"/></g>
<ellipse cx="62" cy="12" rx="8" ry="6.5" fill="#f3a35e"/>
<ellipse cx="94" cy="7.5" rx="4.6" ry="6.6" fill="#f3a35e"/>
<ellipse cx="67.4" cy="-2.6" rx="3.3" ry="4.3" fill="#3a1d12"/><circle cx="68.2" cy="-4.3" r="1.2" fill="#fff"/>
<ellipse cx="85.8" cy="-6" rx="3" ry="4" fill="#3a1d12"/><circle cx="86.6" cy="-7.6" r="1.1" fill="#fff"/>
<path d="M76 6 q3 2.5 6 0" fill="none" stroke="#7aa838" stroke-width="1.2" stroke-linecap="round"/>
</g></symbol><filter id="fd" filterUnits="userSpaceOnUse" x="150" y="300" width="260" height="1900" color-interpolation-filters="sRGB"><feMorphology in="SourceAlpha" operator="dilate" radius="1.7" result="d"/><feGaussianBlur in="d" stdDeviation="0.85" result="b"/><feComponentTransfer in="b" result="o"><feFuncA type="linear" slope="7" intercept="-3"/></feComponentTransfer><feFlood flood-color="#fdf9e0"/><feComposite in2="o" operator="in" result="oc"/><feOffset in="o" dx="5" dy="4.5" result="so"/><feFlood flood-color="#8b2c1c" flood-opacity="0.92"/><feComposite in2="so" operator="in" result="sc"/><feMerge><feMergeNode in="sc"/><feMergeNode in="oc"/><feMergeNode in="SourceGraphic"/></feMerge></filter><filter id="fu" filterUnits="userSpaceOnUse" x="180" y="380" width="220" height="1600" color-interpolation-filters="sRGB"><feMorphology in="SourceAlpha" operator="dilate" radius="2.9" result="d"/><feGaussianBlur in="d" stdDeviation="1.1" result="b"/><feComponentTransfer in="b" result="o"><feFuncA type="linear" slope="7" intercept="-3"/></feComponentTransfer><feFlood flood-color="#fff"/><feComposite in2="o" operator="in" result="oc"/><feOffset in="o" dx="2.2" dy="2.5" result="so"/><feFlood flood-color="#000" flood-opacity="0.28"/><feComposite in2="so" operator="in" result="sc"/><feMerge><feMergeNode in="sc"/><feMergeNode in="oc"/><feMergeNode in="SourceGraphic"/></feMerge></filter></defs>
<use href="#snail" x="254" y="553.7"/>
<clipPath id="k1"><rect x="217.7" y="496.2" width="80" height="78.5"/><rect x="247.0" y="574.2" width="14.7" height="13.2"/></clipPath><g filter="url(#fd)"><g clip-path="url(#k1)"><text x="252.2" y="586.2" font-family="Liberation Sans, sans-serif" font-weight="700" font-size="88" text-anchor="middle" fill="#2fb24c" stroke="#2fb24c" stroke-width="2.5" stroke-linejoin="round">1</text></g></g>
<g filter="url(#fu)"><g transform="translate(281.0 465.0) scale(.94) translate(-281.0 -465.0)"><text x="236.4 268.2 292.4 308.8" y="481.8 474.2 475.1 479.6" rotate="-10.7 3.2 10.2 12" font-family="Liberation Sans, sans-serif" font-weight="700" font-size="42" fill="#251f7e" stroke="#251f7e" stroke-width="1.2" stroke-linejoin="round">Unit</text></g></g>
<use href="#snail" x="254" y="1055.0"/>
<g filter="url(#fd)"><g><text x="256.5" y="1086.7" font-family="Liberation Sans, sans-serif" font-weight="700" font-size="92" text-anchor="middle" fill="#2fb24c" stroke="#2fb24c" stroke-width="2.5" stroke-linejoin="round">2</text></g></g>
<g filter="url(#fu)"><g transform="translate(276.0 964.0) scale(.94) translate(-276.0 -964.0)"><text x="231.4 263.2 287.4 303.8" y="980.8 973.2 974.1 978.6" rotate="-10.7 3.2 10.2 12" font-family="Liberation Sans, sans-serif" font-weight="700" font-size="42" fill="#251f7e" stroke="#251f7e" stroke-width="1.2" stroke-linejoin="round">Unit</text></g></g>
<use href="#snail" x="254" y="1509.7"/>
<g filter="url(#fd)"><g><text x="256.5" y="1542.2" font-family="Liberation Sans, sans-serif" font-weight="700" font-size="88" text-anchor="middle" fill="#2fb24c" stroke="#2fb24c" stroke-width="2.5" stroke-linejoin="round">3</text></g></g>
<g filter="url(#fu)"><g transform="translate(281.0 1426.9) scale(.94) translate(-281.0 -1426.9)"><text x="236.4 268.2 292.4 308.8" y="1443.7 1436.1 1437.0 1441.5" rotate="-10.7 3.2 10.2 12" font-family="Liberation Sans, sans-serif" font-weight="700" font-size="42" fill="#251f7e" stroke="#251f7e" stroke-width="1.2" stroke-linejoin="round">Unit</text></g></g>
<use href="#snail" x="254" y="1947.9"/>
<g filter="url(#fd)"><g><text x="256.5" y="1980.4" font-family="Liberation Sans, sans-serif" font-weight="700" font-size="88" text-anchor="middle" fill="#2fb24c" stroke="#2fb24c" stroke-width="2.5" stroke-linejoin="round">4</text></g></g>
<g filter="url(#fu)"><g transform="translate(281.0 1863.2) scale(.94) translate(-281.0 -1863.2)"><text x="236.4 268.2 292.4 308.8" y="1880.0 1872.4 1873.3 1877.8" rotate="-10.7 3.2 10.2 12" font-family="Liberation Sans, sans-serif" font-weight="700" font-size="42" fill="#251f7e" stroke="#251f7e" stroke-width="1.2" stroke-linejoin="round">Unit</text></g></g>
</svg>
</body>
</html>
